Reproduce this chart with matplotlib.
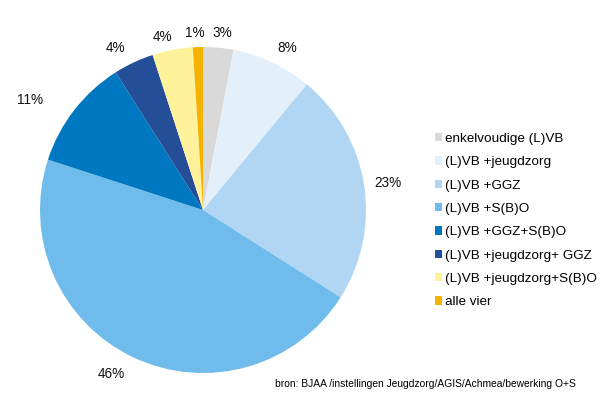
import matplotlib
matplotlib.use("Agg")
import numpy as np
import matplotlib.pyplot as plt
from matplotlib.patches import Patch

categories = [
    "enkelvoudige (L)VB",
    "(L)VB +jeugdzorg",
    "(L)VB +GGZ",
    "(L)VB +S(B)O",
    "(L)VB +GGZ+S(B)O",
    "(L)VB +jeugdzorg+ GGZ",
    "(L)VB +jeugdzorg+S(B)O",
    "alle vier",
]
shares = [3, 8, 23, 46, 11, 4, 4, 1]
colors = ["#d9d9d9", "#e3f0fa", "#b0d6f3", "#6ebbec", "#0078c1",
          "#254e98", "#fff29a", "#f5b200"]
source = "bron: BJAA /instellingen Jeugdzorg/AGIS/Achmea/bewerking O+S"

# label distance from centre (in radii) and angular nudge (deg, ccw),
# mimicking Excel's "best fit" label placement
label_dist = [1.09, 1.12, 1.15, 1.15, 1.26, 1.13, 1.09, 1.09]
label_shift = [-0.7, -2.2, -0.7, -4.0, 5.3, 3.0, 2.3, 0.8]

plt.rcParams["font.family"] = ["Liberation Sans", "DejaVu Sans"]

W, H = 600, 396
fig = plt.figure(figsize=(6, 3.96), dpi=100)
cx, cy, r = 203, 210, 163
ax = fig.add_axes([(cx - r) / W, (H - cy - r) / H, 2 * r / W, 2 * r / H])
wedges, _ = ax.pie(
    shares, colors=colors, startangle=90, counterclock=False,
    wedgeprops=dict(linewidth=0),
)
total = sum(shares)
for w, v, d, s in zip(wedges, shares, label_dist, label_shift):
    th = np.deg2rad((w.theta1 + w.theta2) / 2 + s)
    ax.text(d * np.cos(th), d * np.sin(th), f"{100 * v / total:.0f}%",
            ha="center", va="center", fontsize=9.8, color="#111111")
ax.set_xlim(-1, 1)
ax.set_ylim(-1, 1)
ax.set_aspect("equal")
ax.axis("off")

handles = [Patch(facecolor=c, edgecolor="none") for c in colors]
fig.legend(handles, categories, loc="upper left",
           bbox_to_anchor=(435 / W, 1 - 133 / H), frameon=False,
           fontsize=9.7, handlelength=0.55, handleheight=0.55,
           handletextpad=0.2, labelspacing=0.84, borderpad=0, borderaxespad=0)

fig.text(275 / W, 1 - 384 / H, source, fontsize=7.4, va="center", ha="left")

fig.savefig("out.png", dpi=100)
